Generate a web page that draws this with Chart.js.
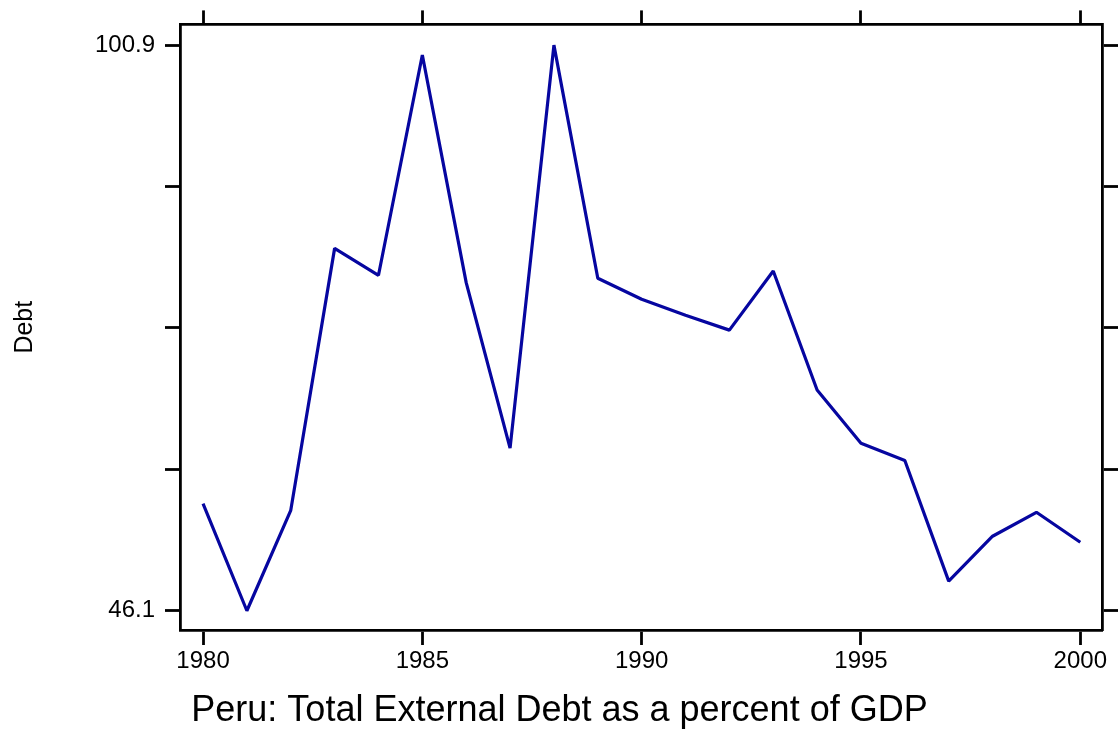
<!DOCTYPE html>
<html>
<head>
<meta charset="utf-8">
<script src="https://cdn.jsdelivr.net/npm/chart.js@4"></script>
<style>
html,body{margin:0;padding:0;background:#fff;}
#wrap{width:1119px;height:733px;position:relative;}
</style>
</head>
<body>
<div id="wrap"><canvas id="c"></canvas></div>
<script>
const years = [1980,1981,1982,1983,1984,1985,1986,1987,1988,1989,1990,1991,1992,1993,1994,1995,1996,1997,1998,1999,2000];
const debt = [56.48,46.1,55.83,81.21,78.60,99.95,77.89,61.85,100.9,78.31,76.28,74.74,73.29,79.02,67.49,62.33,60.66,48.97,53.32,55.64,52.74];
const xTickValues = [1980,1985,1990,1995,2000];
const yTickValues = [46.1,59.8,73.5,87.2,100.9];
const yTickLabels = ['46.1','','','','100.9'];
const titleText = 'Peru: Total External Debt as a percent of GDP';
const yTitle = 'Debt';

const FONT = '"Liberation Sans", Arial, sans-serif';
const X_MIN = 1979.475, X_MAX = 2000.495;
const Y_MIN = 44.235, Y_MAX = 102.91;
const LW = 2.8;

function setTicks(vals){ return function(scale){ scale.ticks = vals.map(v => ({value: v})); }; }

new Chart(document.getElementById('c'), {
  type: 'line',
  data: {
    datasets: [{
      data: years.map((y, i) => ({x: y, y: debt[i]})),
      borderColor: '#0606a0',
      borderWidth: 3.2,
      borderJoinStyle: 'bevel',
      pointRadius: 0,
      tension: 0,
      fill: false,
      xAxisID: 'x',
      yAxisID: 'y'
    }]
  },
  options: {
    responsive: true,
    maintainAspectRatio: false,
    animation: false,
    layout: { padding: 0 },
    plugins: {
      legend: { display: false },
      tooltip: { enabled: false },
      title: {
        display: true,
        position: 'bottom',
        text: titleText,
        color: '#000',
        font: { family: FONT, size: 36, weight: 'normal', lineHeight: 1.2 },
        padding: { top: 0, bottom: 0 }
      }
    },
    scales: {
      x: {
        type: 'linear', position: 'bottom', min: X_MIN, max: X_MAX,
        afterBuildTicks: setTicks(xTickValues),
        afterFit: s => { s.height = 59.8; },
        border: { display: true, color: '#000', width: LW },
        grid: { display: true, drawOnChartArea: false, drawTicks: true, tickLength: 15, tickColor: '#000', tickWidth: LW, color: '#000' },
        ticks: { autoSkip: false, maxRotation: 0, color: '#000', padding: 2, font: { family: FONT, size: 24 }, callback: v => String(v) }
      },
      x2: {
        type: 'linear', position: 'top', min: X_MIN, max: X_MAX,
        afterBuildTicks: setTicks(xTickValues),
        afterFit: s => { s.height = 22.7; },
        border: { display: true, color: '#000', width: LW },
        grid: { display: true, drawOnChartArea: false, drawTicks: true, tickLength: 14, tickColor: '#000', tickWidth: LW, color: '#000' },
        ticks: { display: false }
      },
      y: {
        type: 'linear', position: 'left', min: Y_MIN, max: Y_MAX,
        afterBuildTicks: setTicks(yTickValues),
        afterFit: s => { s.width = 180; },
        border: { display: true, color: '#000', width: LW },
        grid: { display: true, drawOnChartArea: false, drawTicks: true, tickLength: 15, tickColor: '#000', tickWidth: LW, color: '#000' },
        ticks: { autoSkip: false, color: '#000', padding: 10, font: { family: FONT, size: 24 },
          callback: (v, i) => yTickLabels[i] },
        title: { display: true, text: yTitle, color: '#000', font: { family: FONT, size: 25, lineHeight: 1.2 }, padding: { top: 10, bottom: 0 } }
      },
      y2: {
        type: 'linear', position: 'right', min: Y_MIN, max: Y_MAX,
        afterBuildTicks: setTicks(yTickValues),
        afterFit: s => { s.width = 17; },
        border: { display: true, color: '#000', width: LW },
        grid: { display: true, drawOnChartArea: false, drawTicks: true, tickLength: 16, tickColor: '#000', tickWidth: LW, color: '#000' },
        ticks: { display: false }
      }
    }
  }
});
</script>
</body>
</html>
